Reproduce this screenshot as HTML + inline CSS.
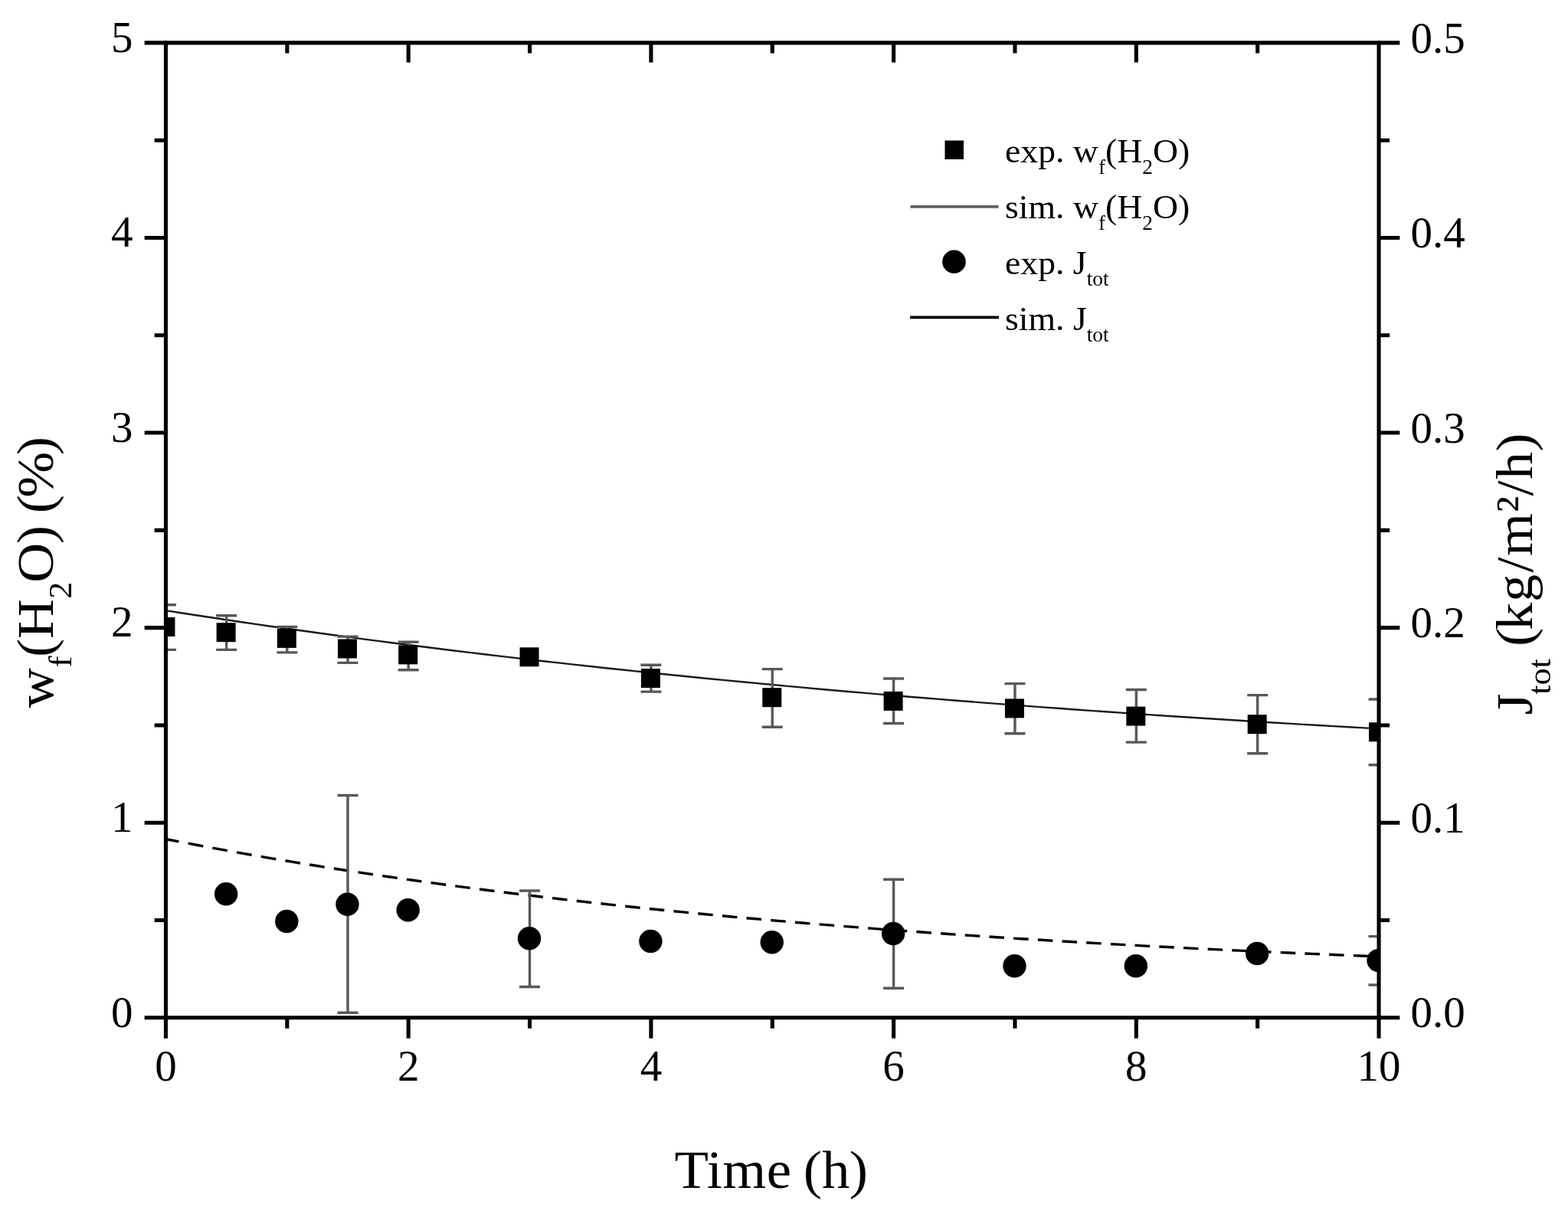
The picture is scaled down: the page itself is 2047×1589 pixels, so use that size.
<!DOCTYPE html><html><head><meta charset="utf-8"><style>html,body{margin:0;padding:0;background:#fff;overflow:hidden;}svg{display:block;}text{font-family:"Liberation Serif",serif;fill:#000;}</style></head><body>
<svg width="2047" height="1589" viewBox="0 0 2047 1589">
<rect width="2047" height="1589" fill="#fff"/>
<defs><clipPath id="pa"><rect x="216.46" y="55.899999999999864" width="1583.6000000000001" height="1272.9"/></clipPath></defs>
<g clip-path="url(#pa)">
<polyline points="216.46,797.16 236.25,800.25 256.05,803.29 275.85,806.30 295.64,809.27 315.44,812.20 335.23,815.09 355.02,817.95 374.82,820.77 394.62,823.55 414.41,826.29 434.21,829.00 454.00,831.68 473.80,834.32 493.59,836.92 513.38,839.50 533.18,842.04 552.98,844.54 572.77,847.01 592.57,849.46 612.36,851.87 632.16,854.24 651.95,856.59 671.75,858.91 691.54,861.20 711.34,863.45 731.13,865.68 750.93,867.88 770.72,870.05 790.52,872.20 810.31,874.31 830.11,876.40 849.90,878.46 869.70,880.49 889.49,882.50 909.29,884.48 929.08,886.44 948.88,888.37 968.67,890.27 988.47,892.16 1008.26,894.01 1028.06,895.84 1047.85,897.65 1067.64,899.44 1087.44,901.20 1107.24,902.94 1127.03,904.66 1146.83,906.35 1166.62,908.02 1186.41,909.68 1206.21,911.30 1226.01,912.91 1245.80,914.50 1265.60,916.07 1285.39,917.61 1305.19,919.14 1324.98,920.65 1344.78,922.14 1364.57,923.60 1384.37,925.05 1404.16,926.48 1423.96,927.89 1443.75,929.29 1463.55,930.66 1483.34,932.02 1503.14,933.36 1522.93,934.68 1542.73,935.99 1562.52,937.28 1582.32,938.55 1602.11,939.81 1621.91,941.04 1641.70,942.27 1661.50,943.47 1681.29,944.67 1701.09,945.84 1720.88,947.00 1740.68,948.15 1760.47,949.28 1780.27,950.40 1800.06,951.50" fill="none" stroke="#1a1a1a" stroke-width="2.4"/>
<path d="M214.01,1095.09L223.76,1096.99L233.51,1098.87M245.70,1101.20L255.45,1103.04L265.20,1104.86M277.39,1107.11L287.14,1108.90L296.89,1110.66M309.08,1112.84L318.83,1114.57L328.58,1116.27M340.77,1118.39L350.52,1120.06L360.27,1121.71M372.46,1123.75L382.21,1125.37L391.96,1126.97M404.15,1128.95L413.90,1130.52L423.65,1132.07M435.84,1133.98L445.59,1135.50L455.34,1137.00M467.53,1138.85L477.28,1140.32L487.03,1141.77M499.22,1143.57L508.97,1144.99L518.72,1146.40M530.91,1148.13L540.66,1149.51L550.41,1150.87M562.60,1152.55L572.35,1153.89L582.10,1155.20M594.29,1156.83L604.04,1158.12L613.79,1159.40M625.98,1160.98L635.73,1162.22L645.48,1163.46M657.67,1164.99L667.42,1166.19L677.17,1167.39M689.36,1168.87L699.11,1170.04L708.86,1171.20M721.05,1172.63L730.80,1173.76L740.55,1174.88M752.74,1176.27L762.49,1177.36L772.24,1178.45M784.43,1179.79L794.18,1180.85L803.93,1181.90M816.12,1183.20L825.87,1184.23L835.62,1185.24M847.81,1186.50L857.56,1187.50L867.31,1188.48M879.50,1189.70L889.25,1190.66L899.00,1191.61M911.19,1192.79L920.94,1193.72L930.69,1194.65M942.88,1195.79L952.63,1196.69L962.38,1197.58M974.57,1198.69L984.32,1199.56L994.07,1200.43M1006.26,1201.50L1016.01,1202.34L1025.76,1203.18M1037.95,1204.22L1047.70,1205.03L1057.45,1205.84M1069.64,1206.85L1079.39,1207.64L1089.14,1208.42M1101.33,1209.39L1111.08,1210.16L1120.83,1210.92M1133.02,1211.86L1142.77,1212.60L1152.52,1213.34M1164.71,1214.25L1174.46,1214.97L1184.21,1215.68M1196.40,1216.56L1206.15,1217.26L1215.90,1217.95M1228.09,1218.80L1237.84,1219.47L1247.59,1220.14M1259.78,1220.97L1269.53,1221.62L1279.28,1222.27M1291.47,1223.06L1301.22,1223.70L1310.97,1224.32M1323.16,1225.09L1332.91,1225.71L1342.66,1226.31M1354.85,1227.06L1364.60,1227.65L1374.35,1228.24M1386.54,1228.96L1396.29,1229.54L1406.04,1230.11M1418.23,1230.81L1427.98,1231.36L1437.73,1231.91M1449.92,1232.59L1459.67,1233.13L1469.42,1233.66M1481.61,1234.32L1491.36,1234.84L1501.11,1235.35M1513.30,1235.99L1523.05,1236.49L1532.80,1236.99M1544.99,1237.61L1554.74,1238.10L1564.49,1238.58M1576.68,1239.18L1586.43,1239.65L1596.18,1240.11M1608.37,1240.69L1618.12,1241.15L1627.87,1241.60M1640.06,1242.16L1649.81,1242.60L1659.56,1243.04M1671.75,1243.58L1681.50,1244.01L1691.25,1244.44M1703.44,1244.96L1713.19,1245.37L1722.94,1245.78M1735.13,1246.29L1744.88,1246.69L1754.63,1247.09M1766.82,1247.58L1776.57,1247.97L1786.32,1248.36M1798.51,1248.83L1808.26,1249.21L1818.01,1249.58" fill="none" stroke="#000" stroke-width="3.4"/>
<path d="M216.46,789.7V848.4M202.96,789.7H229.96M202.96,848.4H229.96" stroke="#585858" stroke-width="3.4" fill="none"/>
<path d="M295.64,803.7V848.4M282.14,803.7H309.14M282.14,848.4H309.14" stroke="#585858" stroke-width="3.4" fill="none"/>
<path d="M374.82,818.4V851.9M361.32,818.4H388.32M361.32,851.9H388.32" stroke="#585858" stroke-width="3.4" fill="none"/>
<path d="M454.00,831.1V865.4M440.50,831.1H467.50M440.50,865.4H467.50" stroke="#585858" stroke-width="3.4" fill="none"/>
<path d="M533.18,838.2V874.8M519.68,838.2H546.68M519.68,874.8H546.68" stroke="#585858" stroke-width="3.4" fill="none"/>
<path d="M849.90,868.3V903.1M836.40,868.3H863.40M836.40,903.1H863.40" stroke="#585858" stroke-width="3.4" fill="none"/>
<path d="M1008.26,873.6V949.3M994.76,873.6H1021.76M994.76,949.3H1021.76" stroke="#585858" stroke-width="3.4" fill="none"/>
<path d="M1166.62,886V944.5M1153.12,886H1180.12M1153.12,944.5H1180.12" stroke="#585858" stroke-width="3.4" fill="none"/>
<path d="M1324.98,892.6V957.8M1311.48,892.6H1338.48M1311.48,957.8H1338.48" stroke="#585858" stroke-width="3.4" fill="none"/>
<path d="M1483.34,900.5V969.1M1469.84,900.5H1496.84M1469.84,969.1H1496.84" stroke="#585858" stroke-width="3.4" fill="none"/>
<path d="M1641.70,907.6V983.8M1628.20,907.6H1655.20M1628.20,983.8H1655.20" stroke="#585858" stroke-width="3.4" fill="none"/>
<path d="M1800.06,913V998.8M1786.56,913H1813.56M1786.56,998.8H1813.56" stroke="#585858" stroke-width="3.4" fill="none"/>
<path d="M454.00,1038.5V1322.3M440.50,1038.5H467.50M440.50,1322.3H467.50" stroke="#585858" stroke-width="3.4" fill="none"/>
<path d="M691.54,1163V1288.5M678.04,1163H705.04M678.04,1288.5H705.04" stroke="#585858" stroke-width="3.4" fill="none"/>
<path d="M1166.62,1148.2V1290.2M1153.12,1148.2H1180.12M1153.12,1290.2H1180.12" stroke="#585858" stroke-width="3.4" fill="none"/>
<path d="M1800.06,1222.6V1286M1786.56,1222.6H1813.56M1786.56,1286H1813.56" stroke="#585858" stroke-width="3.4" fill="none"/>
<rect x="203.46" y="806.00" width="25" height="25" fill="#000"/>
<rect x="282.64" y="813.20" width="25" height="25" fill="#000"/>
<rect x="361.82" y="820.90" width="25" height="25" fill="#000"/>
<rect x="441.00" y="834.50" width="25" height="25" fill="#000"/>
<rect x="520.18" y="842.40" width="25" height="25" fill="#000"/>
<rect x="678.54" y="845.30" width="25" height="25" fill="#000"/>
<rect x="836.90" y="873.10" width="25" height="25" fill="#000"/>
<rect x="995.26" y="898.20" width="25" height="25" fill="#000"/>
<rect x="1153.62" y="902.90" width="25" height="25" fill="#000"/>
<rect x="1311.98" y="912.40" width="25" height="25" fill="#000"/>
<rect x="1470.34" y="922.60" width="25" height="25" fill="#000"/>
<rect x="1628.70" y="933.20" width="25" height="25" fill="#000"/>
<rect x="1787.06" y="943.30" width="25" height="25" fill="#000"/>
<circle cx="295.14" cy="1167.3" r="15.2" fill="#000"/>
<circle cx="374.32" cy="1202.9" r="15.2" fill="#000"/>
<circle cx="453.50" cy="1180.8" r="15.2" fill="#000"/>
<circle cx="532.68" cy="1188.2" r="15.2" fill="#000"/>
<circle cx="691.04" cy="1225.3" r="15.2" fill="#000"/>
<circle cx="849.40" cy="1228.9" r="15.2" fill="#000"/>
<circle cx="1007.76" cy="1230.3" r="15.2" fill="#000"/>
<circle cx="1166.12" cy="1219" r="15.2" fill="#000"/>
<circle cx="1324.48" cy="1261.2" r="15.2" fill="#000"/>
<circle cx="1482.84" cy="1261.2" r="15.2" fill="#000"/>
<circle cx="1641.20" cy="1245" r="15.2" fill="#000"/>
<circle cx="1799.56" cy="1254.1" r="15.2" fill="#000"/>
</g>
<path d="M216.46,55.90H1800.06M216.46,1328.80H1800.06" stroke="#000" stroke-width="5.1" stroke-linecap="square" fill="none"/>
<path d="M216.46,55.90V1328.80M1800.06,55.90V1328.80" stroke="#000" stroke-width="5.1" stroke-linecap="square" fill="none"/>
<path d="M216.46,1328.80v26.9M374.82,1328.80v13.9M374.82,55.90v13.6M533.18,1328.80v26.9M533.18,55.90v25.6M691.54,1328.80v13.9M691.54,55.90v13.6M849.90,1328.80v26.9M849.90,55.90v25.6M1008.26,1328.80v13.9M1008.26,55.90v13.6M1166.62,1328.80v26.9M1166.62,55.90v25.6M1324.98,1328.80v13.9M1324.98,55.90v13.6M1483.34,1328.80v26.9M1483.34,55.90v25.6M1641.70,1328.80v13.9M1641.70,55.90v13.6M1800.06,1328.80v26.9M216.46,1328.80h-27.8M1800.06,1328.80h27.3M216.46,1201.51h-14.8M1800.06,1201.51h14.1M216.46,1074.22h-27.8M1800.06,1074.22h27.3M216.46,946.93h-14.8M1800.06,946.93h14.1M216.46,819.64h-27.8M1800.06,819.64h27.3M216.46,692.35h-14.8M1800.06,692.35h14.1M216.46,565.06h-27.8M1800.06,565.06h27.3M216.46,437.77h-14.8M1800.06,437.77h14.1M216.46,310.48h-27.8M1800.06,310.48h27.3M216.46,183.19h-14.8M1800.06,183.19h14.1M216.46,55.90h-27.8M1800.06,55.90h27.3" stroke="#000" stroke-width="5.1" fill="none"/>
<text x="173.5" y="1340.60" font-size="57" text-anchor="end">0</text>
<text x="173.5" y="1086.02" font-size="57" text-anchor="end">1</text>
<text x="173.5" y="831.44" font-size="57" text-anchor="end">2</text>
<text x="173.5" y="576.86" font-size="57" text-anchor="end">3</text>
<text x="173.5" y="322.28" font-size="57" text-anchor="end">4</text>
<text x="173.5" y="67.70" font-size="57" text-anchor="end">5</text>
<text x="1841.5" y="1341.40" font-size="57">0.0</text>
<text x="1841.5" y="1086.82" font-size="57">0.1</text>
<text x="1841.5" y="832.24" font-size="57">0.2</text>
<text x="1841.5" y="577.66" font-size="57">0.3</text>
<text x="1841.5" y="323.08" font-size="57">0.4</text>
<text x="1841.5" y="68.50" font-size="57">0.5</text>
<text x="216.46" y="1410.5" font-size="57" text-anchor="middle">0</text>
<text x="533.18" y="1410.5" font-size="57" text-anchor="middle">2</text>
<text x="849.90" y="1410.5" font-size="57" text-anchor="middle">4</text>
<text x="1166.62" y="1410.5" font-size="57" text-anchor="middle">6</text>
<text x="1483.34" y="1410.5" font-size="57" text-anchor="middle">8</text>
<text x="1800.06" y="1410.5" font-size="57" text-anchor="middle">10</text>
<text transform="translate(0,1550.7) scale(1.04,1)"><tspan x="846.69" y="0.00" font-size="70">T</tspan><tspan x="887.18" y="0.00" font-size="70">i</tspan><tspan x="907.11" y="0.00" font-size="70">m</tspan><tspan x="962.34" y="0.00" font-size="70">e </tspan><tspan x="1008.32" y="0.00" font-size="70">(</tspan><tspan x="1031.66" y="0.00" font-size="70">h</tspan><tspan x="1066.01" y="0.00" font-size="70">)</tspan></text>
<text transform="translate(69.3,930) rotate(-90) scale(1.05,1)"><tspan x="5.53" y="0.00" font-size="68.5">w</tspan><tspan x="56.08" y="23.70" font-size="42">f</tspan><tspan x="68.67" y="0.00" font-size="68.5">(</tspan><tspan x="91.47" y="0.00" font-size="68.5">H</tspan><tspan x="141.31" y="23.70" font-size="42">2</tspan><tspan x="161.27" y="0.00" font-size="68.5">O</tspan><tspan x="209.57" y="0.00" font-size="68.5">) </tspan><tspan x="247.48" y="0.00" font-size="68.5">(</tspan><tspan x="266.95" y="0.00" font-size="68.5">%</tspan><tspan x="320.00" y="0.00" font-size="68.5">)</tspan></text>
<text transform="translate(2000,935) rotate(-90) scale(1.05,1)"><tspan x="1.53" y="0.00" font-size="68.5">J</tspan><tspan x="26.89" y="23.80" font-size="42">tot </tspan><tspan x="86.72" y="0.00" font-size="68.5">(</tspan><tspan x="106.89" y="0.00" font-size="68.5">k</tspan><tspan x="142.20" y="0.00" font-size="68.5">g</tspan><tspan x="178.67" y="0.00" font-size="68.5">/</tspan><tspan x="199.08" y="0.00" font-size="68.5">m</tspan><tspan x="253.05" y="0.00" font-size="68.5">²</tspan><tspan x="273.91" y="0.00" font-size="68.5">/</tspan><tspan x="294.28" y="0.00" font-size="68.5">h</tspan><tspan x="329.14" y="0.00" font-size="68.5">)</tspan></text>
<rect x="1233.5" y="183.5" width="24.5" height="24.5" fill="#000"/>
<line x1="1188.5" y1="269.8" x2="1303.5" y2="269.8" stroke="#606060" stroke-width="3.8"/>
<circle cx="1245.5" cy="341.7" r="15.3" fill="#000"/>
<line x1="1188" y1="414.3" x2="1304" y2="414.3" stroke="#000" stroke-width="3.7"/>
<text transform="translate(1312,212) scale(1.016,1)" font-size="45">exp. w<tspan font-size="27" dy="15">f</tspan><tspan dy="-15">(H</tspan><tspan font-size="27" dy="15">2</tspan><tspan dy="-15">O)</tspan></text>
<text transform="translate(1312,285) scale(1.016,1)" font-size="45">sim. w<tspan font-size="27" dy="15">f</tspan><tspan dy="-15">(H</tspan><tspan font-size="27" dy="15">2</tspan><tspan dy="-15">O)</tspan></text>
<text transform="translate(1312,358) scale(1.016,1)" font-size="45">exp. J<tspan font-size="27" dy="15">tot</tspan></text>
<text transform="translate(1312,430.6) scale(1.016,1)" font-size="45">sim. J<tspan font-size="27" dy="15">tot</tspan></text>
</svg></body></html>
